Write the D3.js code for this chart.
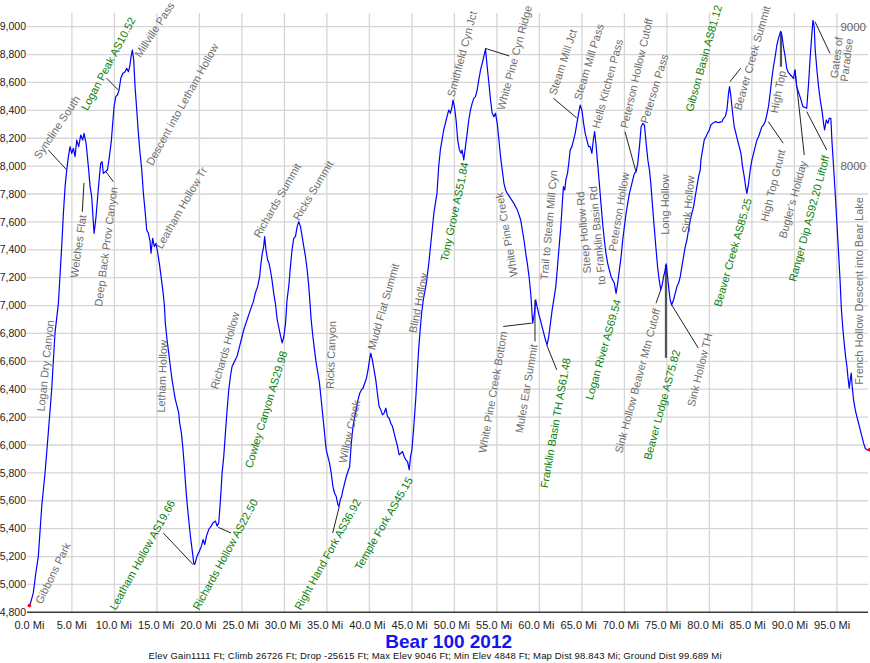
<!DOCTYPE html>
<html>
<head>
<meta charset="utf-8">
<script src="https://cdn.jsdelivr.net/npm/d3@7"></script>
<style>
  html, body { margin: 0; padding: 0; background: #fff; }
  svg { display: block; font-family: "Liberation Sans", Arial, sans-serif; }
</style>
</head>
<body>
<svg id="svg" width="870" height="663"></svg>
<script>
// course profile: [mile, elevation ft]
var profile = [
  [0.00,4848],[0.15,4870],[0.46,4939],[0.75,5080],[1.05,5201],[1.25,5380],[1.45,5559],[1.84,5799],[2.22,6085],[2.62,6396],
  [3.01,6802],[3.41,7016],[3.80,7423],[4.00,7662],[4.20,7853],[4.39,7972],[4.59,8068],[4.78,8140],[4.98,8092],[5.18,8128],
  [5.37,8068],[5.57,8187],[5.80,8140],[6.04,8223],[6.27,8187],[6.43,8235],[6.67,8163],[6.94,7996],[7.14,7853],[7.33,7781],
  [7.45,7662],[7.61,7518],[7.84,7638],[8.00,7757],[8.20,7901],[8.39,8020],[8.55,8032],[8.70,7948],[8.94,7960],[9.18,7972],
  [9.41,8068],[9.65,8187],[9.80,8307],[9.96,8426],[10.16,8498],[10.35,8510],[10.55,8546],[10.75,8630],[10.98,8665],[11.25,8677],
  [11.45,8701],[11.65,8677],[11.80,8713],[11.96,8785],[12.12,8833],[12.27,8761],[12.43,8570],[12.63,8402],[12.82,8235],[13.02,8092],
  [13.22,7972],[13.41,7805],[13.60,7686],[13.80,7542],[14.00,7518],[14.20,7458],[14.31,7375],[14.50,7482],[14.70,7423],[14.90,7446],
  [15.10,7375],[15.29,7303],[15.49,7207],[15.69,7112],[15.88,7004],[15.99,6876],[16.19,6756],[16.39,6661],[16.58,6565],[16.78,6469],
  [16.97,6398],[17.17,6326],[17.37,6278],[17.56,6230],[17.68,6159],[17.88,6087],[18.07,5967],[18.23,5848],[18.39,5705],[18.55,5585],
  [18.74,5466],[18.94,5346],[19.14,5251],[19.33,5155],[19.45,5143],[19.73,5203],[20.00,5239],[20.24,5274],[20.43,5322],[20.63,5286],
  [20.83,5346],[21.10,5394],[21.38,5418],[21.61,5442],[21.89,5454],[22.08,5418],[22.28,5442],[22.48,5609],[22.67,5800],[22.87,5920],
  [23.06,6087],[23.26,6254],[23.46,6398],[23.65,6493],[23.85,6565],[24.05,6589],[24.24,6613],[24.44,6637],[24.64,6685],[24.83,6732],
  [25.03,6780],[25.23,6828],[25.62,6900],[26.01,6971],[26.35,7028],[26.57,7088],[26.85,7136],[27.09,7207],[27.24,7303],[27.40,7375],
  [27.56,7423],[27.68,7494],[27.83,7399],[28.03,7327],[28.19,7303],[28.35,7255],[28.54,7184],[28.74,7088],[28.94,7016],[29.15,6900],
  [29.55,6780],[29.74,6732],[29.94,6780],[30.14,6876],[30.31,7040],[30.51,7136],[30.71,7279],[30.90,7399],[31.10,7482],[31.30,7494],
  [31.50,7566],[31.69,7602],[31.89,7566],[32.09,7494],[32.28,7423],[32.48,7351],[32.68,7255],[32.87,7136],[33.02,7010],[33.15,6897],
  [33.35,6778],[33.54,6682],[33.74,6587],[33.94,6515],[34.13,6443],[34.33,6324],[34.53,6204],[34.72,6085],[34.92,5965],[35.12,5917],
  [35.31,5870],[35.51,5798],[35.71,5702],[35.91,5654],[36.10,5630],[36.30,5571],[36.42,5559],[36.57,5607],[36.73,5630],[36.89,5678],
  [37.09,5726],[37.28,5774],[37.48,5810],[37.68,5846],[37.87,6013],[38.07,6132],[38.27,6204],[38.46,6252],[38.66,6324],[38.86,6371],
  [39.06,6395],[39.25,6407],[39.45,6443],[39.65,6479],[39.84,6539],[40.04,6622],[40.16,6658],[40.35,6610],[40.55,6539],[40.75,6467],
  [40.94,6371],[41.14,6276],[41.34,6252],[41.54,6216],[41.73,6228],[41.93,6264],[42.13,6204],[42.32,6192],[42.52,6156],[42.72,6132],
  [42.91,6085],[43.11,6037],[43.31,5989],[43.50,5929],[43.70,5941],[43.90,5953],[44.09,5917],[44.29,5893],[44.49,5881],[44.69,5822],
  [44.84,5917],[45.00,5965],[45.16,6085],[45.31,6204],[45.47,6348],[45.63,6515],[45.79,6682],[45.94,6802],[46.14,6945],[46.34,7041],
  [46.70,7160],[47.00,7310],[47.30,7490],[47.60,7670],[47.95,7805],[48.15,7996],[48.35,8116],[48.54,8187],[48.74,8259],[48.94,8307],
  [49.13,8355],[49.33,8402],[49.53,8379],[49.72,8426],[49.84,8474],[50.00,8426],[50.20,8331],[50.39,8187],[50.59,8116],[50.79,8092],
  [50.91,8116],[51.10,8044],[51.30,8140],[51.50,8235],[51.69,8331],[51.89,8402],[52.09,8450],[52.28,8486],[52.48,8498],[52.68,8546],
  [52.87,8618],[53.07,8689],[53.27,8737],[53.46,8785],[53.66,8840],[53.86,8713],[54.06,8594],[54.25,8474],[54.45,8379],[54.65,8355],
  [54.84,8379],[55.04,8307],[55.24,8187],[55.43,8068],[55.63,7972],[55.83,7877],[56.02,7829],[56.22,7805],[56.61,7769],[57.00,7733],
  [57.40,7686],[57.80,7614],[57.99,7542],[58.19,7470],[58.39,7375],[58.58,7303],[58.78,7208],[58.98,7088],[59.13,6950],[59.21,6873],
  [59.41,6945],[59.57,7041],[59.72,6993],[60.00,6921],[60.12,6897],[60.31,6849],[60.51,6802],[60.71,6754],[60.90,6718],[61.10,6778],
  [61.30,6873],[61.50,6969],[61.69,7041],[61.93,7136],[62.13,7279],[62.32,7423],[62.52,7566],[62.72,7757],[62.83,7853],[62.99,7829],
  [63.11,7901],[63.31,7948],[63.50,8044],[63.62,8116],[63.82,8140],[64.02,8187],[64.21,8235],[64.41,8307],[64.61,8379],[64.80,8438],
  [65.00,8402],[65.20,8307],[65.39,8235],[65.59,8187],[65.79,8140],[65.98,8140],[66.18,8092],[66.34,8187],[66.50,8247],[66.65,8163],
  [66.85,8020],[67.05,7877],[67.24,7733],[67.44,7590],[67.64,7470],[67.83,7375],[68.03,7303],[68.23,7255],[68.43,7207],[68.62,7184],
  [68.82,7160],[69.02,7088],[69.21,7160],[69.41,7255],[69.61,7351],[69.80,7470],[70.00,7566],[70.20,7662],[70.39,7733],[70.59,7805],
  [70.79,7853],[70.98,7901],[71.18,7948],[71.38,7960],[71.57,8020],[71.77,8140],[71.97,8283],[72.17,8307],[72.36,8295],[72.56,8163],
  [72.76,8044],[72.95,7972],[73.10,7880],[73.30,7720],[73.50,7570],[73.70,7420],[73.90,7280],[74.10,7180],[74.28,7115],[74.45,7150],
  [74.61,7207],[74.80,7255],[74.92,7299],[75.08,7207],[75.24,7112],[75.39,7040],[75.56,7004],[75.78,7040],[75.98,7088],[76.18,7136],
  [76.37,7160],[76.57,7207],[76.76,7279],[76.96,7351],[77.16,7423],[77.35,7470],[77.55,7542],[77.75,7614],[77.94,7662],[78.14,7709],
  [78.33,7781],[78.53,7853],[78.73,7924],[78.92,7972],[79.00,8044],[79.20,8116],[79.39,8187],[79.59,8211],[79.78,8235],[79.98,8259],
  [80.18,8295],[80.37,8307],[80.69,8319],[81.08,8312],[81.47,8319],[81.67,8343],[81.86,8355],[82.06,8402],[82.25,8522],[82.37,8570],
  [82.53,8498],[82.73,8379],[82.92,8283],[83.12,8235],[83.31,8187],[83.51,8140],[83.71,8092],[83.90,7996],[84.10,7924],[84.29,7841],
  [84.41,7805],[84.61,7877],[84.80,7972],[85.00,8044],[85.20,8092],[85.39,8140],[85.59,8187],[85.78,8211],[85.98,8247],[86.18,8283],
  [86.37,8295],[86.57,8320],[86.76,8370],[86.96,8430],[87.16,8530],[87.35,8630],[87.55,8720],[87.75,8790],[87.94,8870],[88.14,8920],
  [88.39,8966],[88.53,8940],[88.70,8860],[88.90,8790],[89.10,8700],[89.30,8670],[89.60,8650],[89.90,8630],[90.07,8690],[90.27,8570],
  [90.66,8498],[91.00,8427],[91.27,8420],[91.45,8415],[91.67,8594],[91.86,8785],[92.06,8952],[92.18,9046],[92.33,9000],[92.45,8833],
  [92.65,8689],[92.84,8570],[93.04,8474],[93.24,8402],[93.43,8307],[93.55,8259],[93.75,8331],[93.94,8307],[94.10,8343],[94.29,8343],
  [94.41,8187],[94.61,7996],[94.80,7805],[95.00,7590],[95.20,7375],[95.39,7160],[95.51,6993],[95.59,6921],[95.71,6826],[95.86,6730],
  [96.02,6634],[96.18,6563],[96.29,6491],[96.45,6407],[96.57,6467],[96.69,6515],[96.80,6419],[96.96,6324],[97.16,6252],[97.35,6204],
  [97.55,6156],[97.75,6109],[97.94,6061],[98.14,6013],[98.33,5977],[98.53,5965],[98.84,5965]
];

// axis ticks
var yTicks = d3.range(4800, 9001, 200);
var xTicks = d3.range(0, 96, 5);
var rightTicks = [8000, 9000];

// way point notes: text start (mile, ft), angle, optional leader [mi1, ft1, mi2, ft2]
var wayPoints = [
  { t: 'Gibbons Park', mi: 1.16, ft: 4862, a: -64 },
  { t: 'Logan Dry Canyon', mi: 1.45, ft: 6240, a: -84 },
  { t: 'Syncline South', mi: 0.93, ft: 8057, a: -56, lead: [2.22, 8116, 4.39, 7973] },
  { t: 'Welches Flat', mi: 5.36, ft: 7199, a: -82, lead: [6.22, 7672, 6.42, 7880] },
  { t: 'Deep Back Prov Canyon', mi: 8.22, ft: 6993, a: -82.5, lead: [9.01, 7959, 9.87, 7889] },
  { t: 'Millville Pass', mi: 12.81, ft: 8785, a: -57 },
  { t: 'Descent into Letham Hollow', mi: 14.19, ft: 8009, a: -61 },
  { t: 'Leatham Hollow Tr', mi: 15.28, ft: 7412, a: -60 },
  { t: 'Letham Hollow', mi: 15.6, ft: 6231, a: -88 },
  { t: 'Richards Hollow', mi: 21.84, ft: 6401, a: -74 },
  { t: 'Richards Summit', mi: 26.81, ft: 7490, a: -60 },
  { t: 'Ricks Summit', mi: 31.45, ft: 7614, a: -59 },
  { t: 'Ricks Canyon', mi: 35.48, ft: 6403, a: -88 },
  { t: 'Willow Creek', mi: 36.93, ft: 5870, a: -77 },
  { t: 'Mudd Flat Summit', mi: 40.31, ft: 6683, a: -74 },
  { t: 'Blind Hollow', mi: 45.2, ft: 6804, a: -79 },
  { t: 'Smithfield Cyn Jct', mi: 49.68, ft: 8498, a: -75 },
  { t: 'White Pine Cyn Ridge', mi: 55.56, ft: 8403, a: -75, lead: [53.6, 8845, 56.46, 8790] },
  { t: 'White Pine Creek', mi: 57.13, ft: 7208, a: -100 },
  { t: 'Trail to Steam Mill Cyn', mi: 60.66, ft: 7184, a: -85 },
  { t: 'Steam Mill Jct', mi: 61.64, ft: 8510, a: -72, lead: [61.64, 8487, 64.39, 8346] },
  { t: 'Steam Mill Pass', mi: 64.58, ft: 8475, a: -73 },
  { t: 'Hells Kitchen Pass', mi: 66.74, ft: 8272, a: -75 },
  { t: 'Peterson Hollow Cutoff', mi: 70.07, ft: 8272, a: -77, lead: [70.07, 8247, 71.36, 7961] },
  { t: 'Peterson Pass', mi: 72.42, ft: 8308, a: -73 },
  { t: 'Peterson Hollow', mi: 68.69, ft: 7387, a: -80.5 },
  { t: 'Steep Hollow Rd', mi: 65.75, ft: 7232, a: -95 },
  { t: 'to Franklin Basin Rd', mi: 67.45, ft: 7149, a: -95 },
  { t: 'Long Hollow', mi: 74.98, ft: 7507, a: -90 },
  { t: 'Sink Hollow', mi: 77.33, ft: 7519, a: -85 },
  { t: 'Beaver Creek Summit', mi: 83.4, ft: 8403, a: -74, lead: [82.42, 8606, 83.68, 8702] },
  { t: 'High Top', mi: 87.72, ft: 8379, a: -79, lead: [88.42, 8964, 88.42, 8713], heavy: true },
  { t: 'High Top Grunt', mi: 86.54, ft: 7602, a: -76, lead: [86.93, 8319, 88.69, 8164] },
  { t: 'Bugler\u2019s Holiday', mi: 88.69, ft: 7483, a: -74.5, lead: [90.07, 8690, 91.16, 8080] },
  { t: 'Gates of', mi: 94.78, ft: 8630, a: -83, lead: [92.42, 9036, 94.19, 8809] },
  { t: 'Paradise', mi: 95.95, ft: 8606, a: -83 },
  { t: 'French Hollow Descent into Bear Lake', mi: 97.72, ft: 6432, a: -90 },
  { t: 'White Pine Creek Bottom', mi: 53.4, ft: 5942, a: -80, lead: [55.75, 6850, 59.09, 6874] },
  { t: 'Mules Ear Summit', mi: 57.72, ft: 6085, a: -80.5, lead: [59.48, 6742, 59.48, 7041] },
  { t: 'Sink Hollow Beaver Mtn Cutoff', mi: 69.4, ft: 5942, a: -75, lead: [73.72, 7017, 74.31, 7118] },
  { t: 'Sink Hollow TH', mi: 77.92, ft: 6276, a: -76, lead: [78.69, 6695, 75.56, 7005] }
];

// aid stations (green)
var aidStations = [
  { t: 'Logan Peak AS10.52', mi: 6.54, ft: 8403, a: -62, lead: [9.09, 8630, 10.46, 8546] },
  { t: 'Leatham Hollow AS19.66', mi: 9.87, ft: 4820, a: -61, lead: [15.75, 5369, 19.28, 5141] },
  { t: 'Richards Hollow AS22.50', mi: 19.68, ft: 4820, a: -61.5, lead: [23.72, 5369, 22.22, 5409] },
  { t: 'Cowley Canyon AS29.98', mi: 25.87, ft: 5835, a: -73 },
  { t: 'Right Hand Fork AS36.92', mi: 31.64, ft: 4820, a: -61, lead: [35.68, 5369, 36.46, 5559] },
  { t: 'Temple Fork AS45.15', mi: 38.69, ft: 5106, a: -60 },
  { t: 'Tony Grove AS51.84', mi: 48.89, ft: 7316, a: -78 },
  { t: 'Franklin Basin TH AS61.48', mi: 60.66, ft: 5691, a: -80, lead: [60.86, 6718, 62.04, 6539] },
  { t: 'Logan River AS69.54', mi: 65.95, ft: 6324, a: -74 },
  { t: 'Beaver Lodge AS75.82', mi: 72.81, ft: 5894, a: -75, lead: [74.89, 7292, 74.89, 6625], heavy: true },
  { t: 'Gibson Basin AS81.12', mi: 77.72, ft: 8391, a: -74.5 },
  { t: 'Beaver Creek AS85.25', mi: 81.05, ft: 6993, a: -74 },
  { t: 'Ranger Dip AS92.20 Liftoff', mi: 89.87, ft: 7172, a: -75, lead: [91.45, 8391, 93.8, 8116] }
];

var title = 'Bear 100 2012';
var stats = ['Elev Gain1111 Ft', 'Climb 26726 Ft', 'Drop -25615 Ft', 'Max Elev 9046 Ft',
  'Min Elev 4848 Ft', 'Map Dist 98.843 Mi', 'Ground Dist 99.689 Mi'];

(function () {
  'use strict';

  var svg = d3.select('#svg');

  var left = 29.4, right = 868, top = 13;
  var x = d3.scaleLinear().domain([0, 98.9]).range([left, 870.05]);
  var y = d3.scaleLinear().domain([4800, 9000]).range([612.3, 26.7]);

  // grid
  var grid = svg.append('g').attr('stroke', '#d6d6d6').attr('stroke-width', 1.3);
  grid.selectAll('.vg')
    .data(xTicks.filter(function (d) { return d > 0; }))
    .enter().append('line')
    .attr('x1', function (d) { return x(d); })
    .attr('x2', function (d) { return x(d); })
    .attr('y1', top)
    .attr('y2', y(4800));
  grid.selectAll('.hg')
    .data(yTicks.filter(function (d) { return d > 4800; }))
    .enter().append('line')
    .attr('x1', 27)
    .attr('x2', right)
    .attr('y1', function (d) { return y(d); })
    .attr('y2', function (d) { return y(d); });

  // bottom axis line
  svg.append('line')
    .attr('x1', 27).attr('x2', right)
    .attr('y1', y(4800)).attr('y2', y(4800))
    .attr('stroke', '#3a3a3a').attr('stroke-width', 1.6);

  // left tick labels
  svg.append('g').selectAll('text')
    .data(yTicks)
    .enter().append('text')
    .attr('x', 26)
    .attr('y', function (d) { return y(d); })
    .attr('dy', '0.35em')
    .attr('text-anchor', 'end')
    .attr('font-size', 10.5)
    .attr('fill', '#222')
    .text(d3.format(','));

  // right tick labels
  svg.append('g').selectAll('text')
    .data(rightTicks)
    .enter().append('text')
    .attr('x', 866)
    .attr('y', function (d) { return y(d); })
    .attr('dy', '0.35em')
    .attr('text-anchor', 'end')
    .attr('font-size', 11.5)
    .attr('fill', '#666')
    .text(function (d) { return d; });

  // bottom tick labels
  svg.append('g').selectAll('text')
    .data(xTicks)
    .enter().append('text')
    .attr('x', function (d) { return x(d) - d * 0.05; })
    .attr('y', 629)
    .attr('text-anchor', 'middle')
    .attr('font-size', 11)
    .attr('fill', '#222')
    .text(function (d) { return d.toFixed(1) + ' Mi'; });

  // leader lines
  var notes = wayPoints.map(function (d) { return Object.assign({ g: false }, d); })
    .concat(aidStations.map(function (d) { return Object.assign({ g: true }, d); }));

  svg.append('g').selectAll('line')
    .data(notes.filter(function (d) { return d.lead; }))
    .enter().append('line')
    .attr('x1', function (d) { return x(d.lead[0]); })
    .attr('y1', function (d) { return y(d.lead[1]); })
    .attr('x2', function (d) { return x(d.lead[2]); })
    .attr('y2', function (d) { return y(d.lead[3]); })
    .attr('stroke', function (d) { return d.heavy ? '#555' : '#222'; })
    .attr('stroke-width', function (d) { return d.heavy ? 2.2 : 1; });

  // profile line
  var line = d3.line()
    .x(function (d) { return x(d[0]); })
    .y(function (d) { return y(d[1]); });

  svg.append('path')
    .datum(profile)
    .attr('d', line)
    .attr('fill', 'none')
    .attr('stroke', '#0000ff')
    .attr('stroke-width', 1.2)
    .attr('stroke-linejoin', 'round');

  // start and finish marks
  svg.selectAll('.end')
    .data([profile[0], profile[profile.length - 1]])
    .enter().append('circle')
    .attr('cx', function (d) { return x(d[0]); })
    .attr('cy', function (d) { return y(d[1]); })
    .attr('r', 1.8)
    .attr('fill', '#ff0000');

  // rotated labels, anchored at the lower start corner
  svg.append('g').selectAll('text')
    .data(notes)
    .enter().append('text')
    .attr('transform', function (d) {
      return 'translate(' + [x(d.mi), y(d.ft)] + ') rotate(' + d.a + ')';
    })
    .attr('dy', '0.25em')
    .attr('font-size', 11)
    .attr('fill', function (d) { return d.g ? '#0a800a' : '#6e6e6e'; })
    .text(function (d) { return d.t; });

  // title and summary line
  svg.append('text')
    .attr('x', (left + right) / 2)
    .attr('y', 648)
    .attr('text-anchor', 'middle')
    .attr('font-size', 19)
    .attr('font-weight', 'bold')
    .attr('fill', '#1414ee')
    .text(title);

  svg.append('text')
    .attr('x', 435)
    .attr('y', 659)
    .attr('text-anchor', 'middle')
    .attr('font-size', 9.5)
    .attr('fill', '#111')
    .attr('textLength', 573)
    .attr('lengthAdjust', 'spacing')
    .text(stats.join('; '));
})();
</script>
</body>
</html>
